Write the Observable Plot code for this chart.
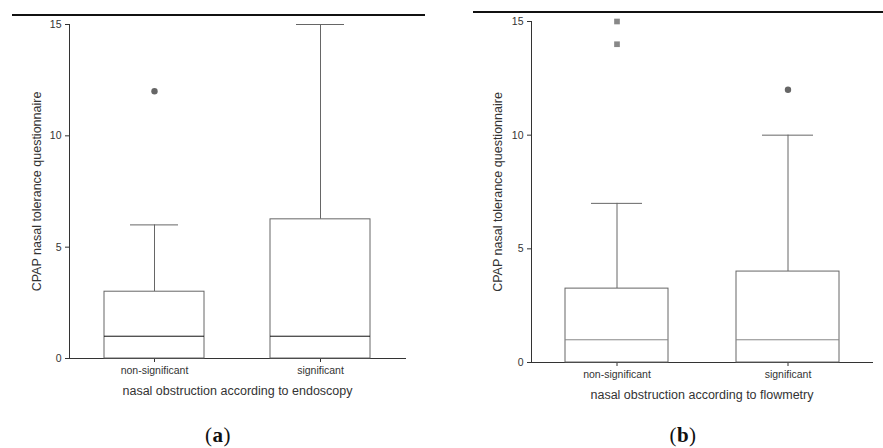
<!DOCTYPE html>
<html>
<head>
<meta charset="utf-8">
<script src="https://cdn.jsdelivr.net/npm/d3@7"></script>
<script src="https://cdn.jsdelivr.net/npm/@observablehq/plot@0.6"></script>
<style>
  html, body { margin: 0; padding: 0; background: #fff; }
  #wrap { position: relative; width: 883px; height: 448px; overflow: hidden; font-family: "Liberation Sans", Arial, sans-serif; }
  .panel { position: absolute; top: 0; }
  .rule { position: absolute; height: 0; border-top: 2px solid #111; z-index: 2; }
  .cap { position: absolute; font-family: "Liberation Serif", "DejaVu Serif", serif; font-size: 21px; line-height: 1; color: #111; transform: translateX(-50%); letter-spacing: 0.5px; }
  .cap b { font-weight: bold; }
  [aria-label="y-axis label"], [aria-label="x-axis label"] { font-size: 12.5px; fill: #333; }
</style>
</head>
<body>
<div id="wrap">
  <div id="pa" class="panel" style="left:0px;"></div>
  <div id="pb" class="panel" style="left:440px;"></div>
  <div class="rule" style="left:12px; top:14px; width:413px;"></div>
  <div class="rule" style="left:473px; top:11px; width:410px;"></div>
  <div class="cap" style="left:218px; top:425px;">(<b>a</b>)</div>
  <div class="cap" style="left:683px; top:425px;">(<b>b</b>)</div>
</div>
<script>
// ---- data ----
const categories = ["non-significant", "significant"];
const yTicks = [0, 5, 10, 15];
const yLabel = "CPAP nasal tolerance questionnaire";

// Panel (a): endoscopy
const aTitle = "nasal obstruction according to endoscopy";
const aQ1 = [0, 0];
const aMedian = [1, 1];
const aQ3 = [3, 6.25];
const aWhiskerLow = [0, 0];
const aWhiskerHigh = [6, 15];
const aOutlierCat = ["non-significant"];
const aOutlierVal = [12];
const aExtremeCat = [];
const aExtremeVal = [];

// Panel (b): flowmetry
const bTitle = "nasal obstruction according to flowmetry";
const bQ1 = [0, 0];
const bMedian = [1, 1];
const bQ3 = [3.25, 4];
const bWhiskerLow = [0, 0];
const bWhiskerHigh = [7, 10];
const bOutlierCat = ["significant"];
const bOutlierVal = [12];
const bExtremeCat = ["non-significant", "non-significant"];
const bExtremeVal = [15, 14];

function makePanel(opts) {
  const stats = categories.map((c, i) => ({
    cat: c, q1: opts.q1[i], med: opts.med[i], q3: opts.q3[i], lo: opts.lo[i], hi: opts.hi[i]
  }));
  const outliers = opts.oCat.map((c, i) => ({cat: c, v: opts.oVal[i]}));
  const extremes = opts.eCat.map((c, i) => ({cat: c, v: opts.eVal[i]}));
  const svg = Plot.plot({
    width: opts.width,
    height: opts.height,
    marginTop: opts.mt,
    marginBottom: opts.mb,
    marginLeft: opts.ml,
    marginRight: opts.mr,
    style: {fontFamily: "'Liberation Sans', Arial, sans-serif", fontSize: "10.5px", color: "#333", background: "#fff"},
    x: {domain: categories, paddingInner: opts.pi, paddingOuter: opts.po, label: opts.title,
        labelAnchor: "center", labelOffset: 36, labelArrow: "none", tickSize: 4, tickPadding: 4, line: true},
    y: {domain: [0, 15], ticks: yTicks, label: yLabel, labelAnchor: "center", labelArrow: "none",
        labelOffset: opts.ylo, tickSize: 4, tickPadding: 4, line: true},
    marks: [
      Plot.ruleX(stats, {x: "cat", y1: "q3", y2: "hi", stroke: "#666"}),
      Plot.ruleX(stats, {x: "cat", y1: "lo", y2: "q1", stroke: "#666"}),
      Plot.tickY(stats, {x: "cat", y: "hi", stroke: "#666", insetLeft: 26, insetRight: 26}),
      Plot.rectY(stats, {x: "cat", y1: "q1", y2: "q3", fill: "#fff", stroke: "#666"}),
      Plot.tickY(stats, {x: "cat", y: "med", stroke: opts.medColor}),
      Plot.dot(outliers, {x: "cat", y: "v", r: 3.2, fill: "#666", stroke: "none"}),
      Plot.dot(extremes, {x: "cat", y: "v", symbol: "square", r: 3.2, fill: "#888", stroke: "none"})
    ]
  });
  // strip any arrow glyph the axis label might carry
  svg.querySelectorAll('[aria-label$="axis label"] text').forEach(t => {
    t.textContent = t.textContent.replace(/^[↑→]\s*/, "").replace(/\s*[↑→]$/, "");
  });
  return svg;
}

document.getElementById("pa").appendChild(makePanel({
  width: 440, height: 400, mt: 24, mb: 42, ml: 69, mr: 35, pi: 0.395, po: 0.2035, ylo: 37,
  title: aTitle, q1: aQ1, med: aMedian, q3: aQ3, lo: aWhiskerLow, hi: aWhiskerHigh,
  oCat: aOutlierCat, oVal: aOutlierVal, eCat: aExtremeCat, eVal: aExtremeVal, medColor: "#111"
}));
document.getElementById("pb").appendChild(makePanel({
  width: 443, height: 404, mt: 21, mb: 42, ml: 91, mr: 11, pi: 0.398, po: 0.196, ylo: 38,
  title: bTitle, q1: bQ1, med: bMedian, q3: bQ3, lo: bWhiskerLow, hi: bWhiskerHigh,
  oCat: bOutlierCat, oVal: bOutlierVal, eCat: bExtremeCat, eVal: bExtremeVal, medColor: "#888"
}));
</script>
</body>
</html>
